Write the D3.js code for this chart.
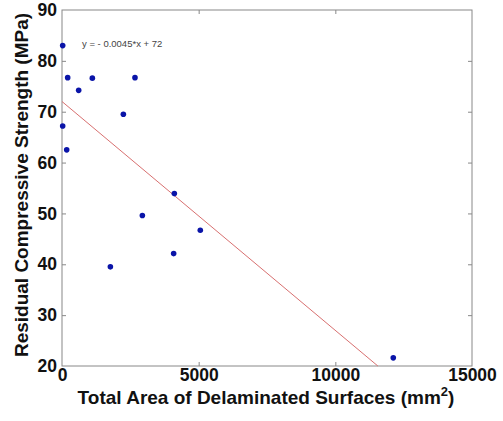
<!DOCTYPE html>
<html lang="en">
<head>
    <meta charset="UTF-8">
    <title>Residual strength</title>
    <script src="https://d3js.org/d3.v7.min.js"></script>
    <style>
        body { margin: 0; background: #fff; }
        svg text { font-family: "Liberation Sans", Arial, sans-serif; }
    </style>
</head>
<body>
<svg id="chart" width="503" height="421"></svg>
<script>
    // data
    const area = [25, 208, 610, 1110, 2670, 2245, 25, 172, 4110, 2940, 5060, 4085, 1770, 12120];
    const strength = [83, 76.7, 74.2, 76.6, 76.7, 69.5, 67.2, 62.5, 53.9, 49.6, 46.7, 42.1, 39.5, 21.6];
    const xTicks = [0, 5000, 10000, 15000];
    const yTicks = [20, 30, 40, 50, 60, 70, 80, 90];
    const fitSlope = -0.0045;
    const fitIntercept = 72;

    const margin = { top: 10, right: 31, bottom: 55, left: 62 };
    const W = 503, H = 421;
    const svg = d3.select('#chart');

    const x = d3.scaleLinear().domain([0, 15000]).range([margin.left, W - margin.right]);
    const y = d3.scaleLinear().domain([20, 90]).range([H - margin.bottom, margin.top]);

    const axisColor = '#888';

    // box
    svg.append('rect')
        .attr('x', x(0)).attr('y', y(90))
        .attr('width', x(15000) - x(0)).attr('height', y(20) - y(90))
        .attr('fill', 'none').attr('stroke', axisColor).attr('stroke-width', 1);

    // axes with inward ticks
    const styleAxis = g => {
        g.select('.domain').remove();
        g.selectAll('.tick line').attr('stroke', axisColor);
        g.selectAll('.tick text')
            .attr('fill', '#111')
            .style('font-size', '17.5px')
            .style('font-weight', 'bold');
    };

    svg.append('g')
        .attr('transform', `translate(0,${y(20)})`)
        .call(d3.axisBottom(x).tickValues(xTicks).tickFormat(d3.format('d')).tickSizeInner(-4).tickPadding(3))
        .call(styleAxis);
    svg.append('g')
        .attr('transform', `translate(0,${y(90)})`)
        .call(d3.axisTop(x).tickValues(xTicks).tickFormat('').tickSizeInner(-4))
        .call(styleAxis);
    svg.append('g')
        .attr('transform', `translate(${x(0)},0)`)
        .call(d3.axisLeft(y).tickValues(yTicks).tickFormat(d3.format('d')).tickSizeInner(-4).tickPadding(5))
        .call(styleAxis);
    svg.append('g')
        .attr('transform', `translate(${x(15000)},0)`)
        .call(d3.axisRight(y).tickValues(yTicks).tickFormat('').tickSizeInner(-4))
        .call(styleAxis);

    // hide the corner ticks sitting on the box
    svg.selectAll('.tick line').filter(d => d === 0 || d === 15000 || d === 20 || d === 90).remove();

    // fit line, from x = 0 to where it leaves the bottom
    const xEnd = (20 - fitIntercept) / fitSlope;
    svg.append('line')
        .attr('x1', x(0)).attr('y1', y(fitIntercept))
        .attr('x2', x(xEnd)).attr('y2', y(20))
        .attr('stroke', '#d87070').attr('stroke-width', 1);

    // points
    svg.append('g').selectAll('circle')
        .data(area.map((a, i) => [a, strength[i]]))
        .join('circle')
        .attr('cx', d => x(d[0]))
        .attr('cy', d => y(d[1]))
        .attr('r', 2.8)
        .attr('fill', '#0a14a8');

    // equation label
    svg.append('text')
        .attr('x', 82).attr('y', 47)
        .attr('fill', '#444')
        .style('font-size', '9.5px')
        .text('y = - 0.0045*x + 72');

    // axis titles
    const xt = svg.append('text')
        .attr('x', 266).attr('y', 404)
        .attr('text-anchor', 'middle')
        .attr('fill', '#111')
        .style('font-size', '19px')
        .style('font-weight', 'bold');
    xt.append('tspan').text('Total Area of Delaminated Surfaces (mm');
    xt.append('tspan').attr('dy', -8).style('font-size', '13px').text('2');
    xt.append('tspan').attr('dy', 8).text(')');

    svg.append('text')
        .attr('transform', 'translate(28,185) rotate(-90)')
        .attr('text-anchor', 'middle')
        .attr('fill', '#111')
        .style('font-size', '19px')
        .style('font-weight', 'bold')
        .text('Residual Compressive Strength (MPa)');
</script>
</body>
</html>
